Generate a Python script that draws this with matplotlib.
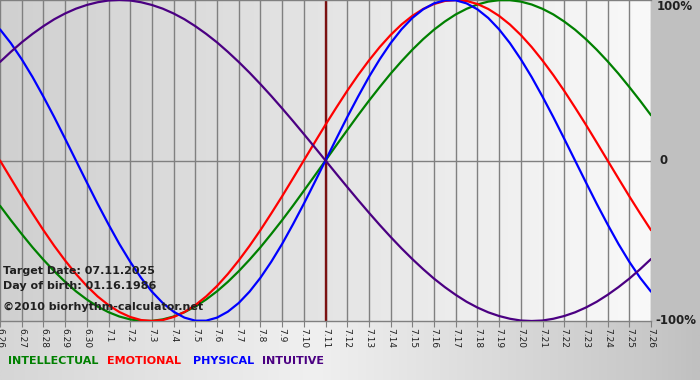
import matplotlib
matplotlib.use("Agg")
import matplotlib.pyplot as plt
import numpy as np
from matplotlib.colors import LinearSegmentedColormap

dates = ["6.26", "6.27", "6.28", "6.29", "6.30", "7.1", "7.2", "7.3", "7.4", "7.5",
         "7.6", "7.7", "7.8", "7.9", "7.10", "7.11", "7.12", "7.13", "7.14", "7.15",
         "7.16", "7.17", "7.18", "7.19", "7.20", "7.21", "7.22", "7.23", "7.24", "7.25", "7.26"]

# values read every half day, from 6.26 to 7.26
physical = [0.817, 0.731, 0.631, 0.520, 0.398, 0.270, 0.136, 0.000, -0.136, -0.270,
            -0.398, -0.520, -0.631, -0.731, -0.817, -0.888, -0.942, -0.979, -0.998, -0.998,
            -0.979, -0.942, -0.888, -0.817, -0.731, -0.631, -0.520, -0.398, -0.270, -0.136,
            0.000, 0.136, 0.270, 0.398, 0.520, 0.631, 0.731, 0.817, 0.888, 0.942,
            0.979, 0.998, 0.998, 0.979, 0.942, 0.888, 0.817, 0.731, 0.631, 0.520,
            0.398, 0.270, 0.136, 0.000, -0.136, -0.270, -0.398, -0.520, -0.631, -0.731, -0.817]
emotional = [0.000, -0.112, -0.223, -0.330, -0.434, -0.532, -0.623, -0.707, -0.782, -0.847,
             -0.901, -0.944, -0.975, -0.994, -1.000, -0.994, -0.975, -0.944, -0.901, -0.847,
             -0.782, -0.707, -0.623, -0.532, -0.434, -0.330, -0.223, -0.112,
             0.000, 0.112, 0.223, 0.330, 0.434, 0.532, 0.623, 0.707, 0.782, 0.847,
             0.901, 0.944, 0.975, 0.994, 1.000, 0.994, 0.975, 0.944, 0.901, 0.847,
             0.782, 0.707, 0.623, 0.532, 0.434, 0.330, 0.223, 0.112, 0.000, -0.112,
             -0.223, -0.330, -0.434]
intellectual = [-0.282, -0.372, -0.458, -0.541, -0.618, -0.690, -0.756, -0.815, -0.866, -0.910,
                -0.945, -0.972, -0.990, -0.999, -0.999, -0.990, -0.972, -0.945, -0.910, -0.866,
                -0.815, -0.756, -0.690, -0.618, -0.541, -0.458, -0.372, -0.282, -0.189, -0.095,
                0.000, 0.095, 0.189, 0.282, 0.372, 0.458, 0.541, 0.618, 0.690, 0.756,
                0.815, 0.866, 0.910, 0.945, 0.972, 0.990, 0.999, 0.999, 0.990, 0.972,
                0.945, 0.910, 0.866, 0.815, 0.756, 0.690, 0.618, 0.541, 0.458, 0.372, 0.282]
intuitive = [0.614, 0.677, 0.736, 0.789, 0.837, 0.880, 0.916, 0.946, 0.969, 0.986,
             0.997, 1.000, 0.997, 0.986, 0.969, 0.946, 0.916, 0.880, 0.837, 0.789,
             0.736, 0.677, 0.614, 0.547, 0.476, 0.402, 0.325, 0.246, 0.165, 0.083,
             0.000, -0.083, -0.165, -0.246, -0.325, -0.402, -0.476, -0.547, -0.614, -0.677,
             -0.736, -0.789, -0.837, -0.880, -0.916, -0.946, -0.969, -0.986, -0.997, -1.000,
             -0.997, -0.986, -0.969, -0.946, -0.916, -0.880, -0.837, -0.789, -0.736, -0.677, -0.614]

series = [("INTELLECTUAL", intellectual, "#008000"),
          ("EMOTIONAL", emotional, "#ff0000"),
          ("PHYSICAL", physical, "#0000ff"),
          ("INTUITIVE", intuitive, "#4b0082")]
target_date = "7.11"
legend_x = [8, 107, 193, 262]

plt.rcParams['font.family'] = ['DejaVu Sans']

fig = plt.figure(figsize=(7, 3.8), dpi=100)

# figure background gradient
bg = fig.add_axes([0, 0, 1, 1], zorder=0)
bg_cmap = LinearSegmentedColormap.from_list(
    "bg", [(0.0, "#d6d6d6"), (0.45, "#f0f0f0"), (0.93, "#c8c8c8"), (1.0, "#c0c0c0")])
bg.imshow(np.linspace(0, 1, 512)[None, :], cmap=bg_cmap, aspect="auto",
          extent=[0, 1, 0, 1])
bg.set_xlim(0, 1)
bg.set_ylim(0, 1)
bg.axis("off")
bg.add_patch(plt.Rectangle((651 / 700, 59 / 380), 1 - 651 / 700, 321 / 380,
                           color="#c0c0c0", zorder=2))

ax = fig.add_axes([0, 59 / 380, 651 / 700, 321 / 380], zorder=1)
plot_cmap = LinearSegmentedColormap.from_list("pl", ["#d0d0d0", "#f9f9f9"])
x = np.arange(len(dates))
xs = np.linspace(0, len(dates) - 1, len(physical))
ax.imshow(np.linspace(0, 1, 512)[None, :], cmap=plot_cmap, aspect="auto",
          extent=[x[0], x[-1], -1, 1], zorder=0)
ax.set_xlim(x[0], x[-1])
ax.set_ylim(-1, 1)

for xi in x:
    ax.axvline(xi, color="#808080", lw=1, zorder=1)
ax.axhline(0, color="#808080", lw=1, zorder=1)
ax.axvline(dates.index(target_date), color="#7a1010", lw=1.7, zorder=2)

for name, vals, col in series:
    ax.plot(xs, vals, color=col, lw=1.6, zorder=3, solid_capstyle="round",
            solid_joinstyle="round")

ax.set_xticks(x)
ax.set_xticklabels(dates)
ax.set_yticks([])
ax.tick_params(axis="x", direction="out", length=4, color="#808080",
               labelsize=6.5, labelrotation=-90, pad=1, labelcolor="#202020")
for s in ["left", "right"]:
    ax.spines[s].set_visible(False)
for s in ["top", "bottom"]:
    ax.spines[s].set_color("#808080")
    ax.spines[s].set_linewidth(1)

# right side labels
fig.text(657 / 700, 1 - 7 / 380, "100%", ha="left", va="center",
         fontsize=8.5, fontweight="bold", color="#202020")
fig.text(659 / 700, 1 - 161 / 380, "0", ha="left", va="center",
         fontsize=8.5, fontweight="bold", color="#202020")
fig.text(655 / 700, 1 - 321 / 380, "-100%", ha="left", va="center",
         fontsize=8.5, fontweight="bold", color="#202020")

# info texts
fig.text(3 / 700, 1 - 271 / 380, "Target Date: 07.11.2025", ha="left", va="center",
         fontsize=8, fontweight="bold", color="#202020", zorder=5)
fig.text(3 / 700, 1 - 286 / 380, "Day of birth: 01.16.1986", ha="left", va="center",
         fontsize=8, fontweight="bold", color="#202020", zorder=5)
fig.text(3 / 700, 1 - 307 / 380, "\u00a92010 biorhythm-calculator.net", ha="left",
         va="center", fontsize=8, fontweight="bold", color="#202020", zorder=5)

# legend
for (name, vals, col), lx in zip(series, legend_x):
    fig.text(lx / 700, 1 - 361 / 380, name, ha="left", va="center",
             fontsize=8, fontweight="bold", color=col)

fig.savefig("out.png", dpi=100)
